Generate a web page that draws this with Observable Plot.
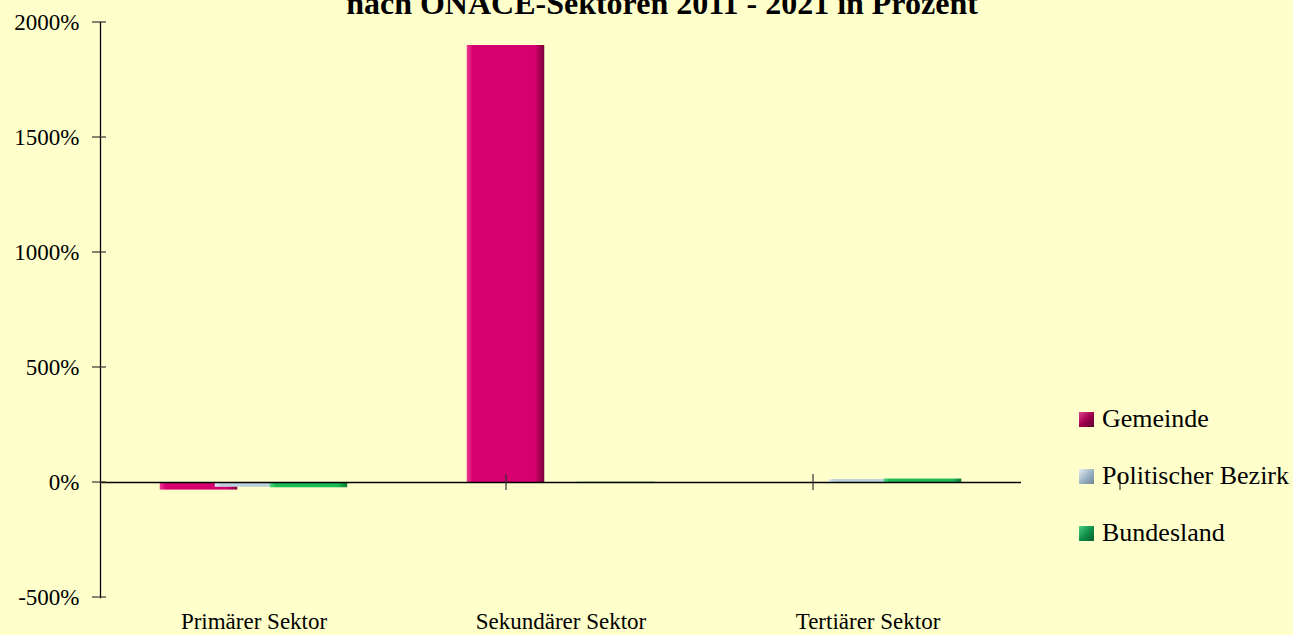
<!DOCTYPE html>
<html><head><meta charset="utf-8">
<script src="https://cdn.jsdelivr.net/npm/d3@7"></script>
<script src="https://cdn.jsdelivr.net/npm/@observablehq/plot@0.6"></script>
<style>
body{margin:0;background:#ffffcc;}
#wrap{position:relative;width:1293px;height:635px;overflow:hidden;font-family:"Liberation Serif","Times New Roman",serif;background:#ffffcc;}
#chart{position:absolute;left:0;top:0;}
#title{position:absolute;left:0;width:1324px;top:-13px;text-align:center;font-weight:bold;font-size:32px;line-height:32px;color:#000;white-space:nowrap;}
.li{position:absolute;left:1079px;display:flex;align-items:center;font-size:26px;line-height:30px;color:#000;white-space:nowrap;}
.sw{width:15px;height:15px;margin-right:8px;}
</style></head>
<body>
<div id="wrap">
  <div id="chart"></div>
  <div id="title">nach ÖNACE-Sektoren 2011 - 2021 in Prozent</div>
  <div id="legend"></div>
</div>
<script>
const sectors = ["Primärer Sektor", "Sekundärer Sektor", "Tertiärer Sektor"];
const seriesNames = ["Gemeinde", "Politischer Bezirk", "Bundesland"];
const gemeinde = [-33, 1900, -3];
const bezirk = [-21, -3, 13];
const bundesland = [-23, 1, 15];
const yTicks = [-500, 0, 500, 1000, 1500, 2000];
const baseColors = ["#d6006e", "#bcd0de", "#1cb955"];
const lightColors = ["#ee3a92", "#e2ecf4", "#52d882"];
const darkColors = ["#7a0038", "#7f95a8", "#0b7a36"];
const gradIds = ["gGem", "gBez", "gBund"];

const valuesBySeries = [gemeinde, bezirk, bundesland];
const data = sectors.flatMap((s, i) =>
  seriesNames.map((n, k) => ({sector: s, series: n, value: valuesBySeries[k][i]})));

const barMarks = seriesNames.map((n, k) =>
  Plot.barY(data.filter(d => d.series === n), {
    fx: "sector", x: "series", y: "value",
    fill: `url(#${gradIds[k]})`,
    insetLeft: -11.25, insetRight: -11.25
  }));

const plot = Plot.plot({
  width: 1293, height: 635,
  marginLeft: 99, marginRight: 271, marginTop: 22, marginBottom: 38,
  style: {background: "#ffffcc", fontFamily: "'Liberation Serif','Times New Roman',serif", color: "#000"},
  fx: {domain: sectors, padding: 0, label: null},
  x: {domain: seriesNames, paddingInner: 0, paddingOuter: 1.27, axis: null},
  y: {domain: [-500, 2000], label: null},
  marks: [
    ...barMarks,
    Plot.ruleY([0], {stroke: "#000", strokeWidth: 1.3}),
    Plot.frame({anchor: "left", facetAnchor: "left", stroke: "#000", strokeWidth: 1.3}),
    Plot.axisY(yTicks, {tickFormat: d => d + "%", tickSize: 0, tickPadding: 21, fontSize: 23, label: null}),
    Plot.axisFx({anchor: "bottom", tickSize: 0, tickPadding: 15, fontSize: 23, label: null})
  ]
});

const svg = d3.select(plot);
const defs = svg.insert("defs", ":first-child");
gradIds.forEach((id, k) => {
  const g = defs.append("linearGradient").attr("id", id).attr("x1", 0).attr("x2", 1).attr("y1", 0).attr("y2", 0);
  g.append("stop").attr("offset", 0).attr("stop-color", lightColors[k]);
  g.append("stop").attr("offset", 0.08).attr("stop-color", baseColors[k]);
  g.append("stop").attr("offset", 0.88).attr("stop-color", baseColors[k]);
  g.append("stop").attr("offset", 1).attr("stop-color", darkColors[k]);
});

// tick marks crossing the axes, placed with the plot's own scales
const yS = plot.scale("y"), fxS = plot.scale("fx");
const x0 = 99;
const tg = svg.append("g").attr("stroke", "#333").attr("stroke-width", 1.2);
yTicks.forEach(v => {
  const yy = yS.apply(v);
  tg.append("line").attr("x1", x0 - 7).attr("x2", x0 + 7).attr("y1", yy).attr("y2", yy);
});
const y0 = yS.apply(0);
const edges = sectors.map(s => x0 + fxS.apply(s));
edges.push(x0 + fxS.apply(sectors[sectors.length - 1]) + fxS.bandwidth);
edges.slice(1).forEach(ex => {
  tg.append("line").attr("x1", ex).attr("x2", ex).attr("y1", y0 - 8).attr("y2", y0 + 8);
});

document.getElementById("chart").appendChild(plot);

const legendTops = [404, 461, 518];
const legendBg = [
  "linear-gradient(135deg,#e04090 0%,#a0004f 50%,#600030 100%)",
  "linear-gradient(135deg,#e8f0f6 0%,#9fb6c8 50%,#6f8598 100%)",
  "linear-gradient(135deg,#50d080 0%,#10904a 50%,#06602e 100%)"
];
const leg = document.getElementById("legend");
seriesNames.forEach((n, k) => {
  const item = document.createElement("div");
  item.className = "li";
  item.style.top = legendTops[k] + "px";
  const sw = document.createElement("div");
  sw.className = "sw";
  sw.style.background = legendBg[k];
  item.appendChild(sw);
  item.appendChild(document.createTextNode(n));
  leg.appendChild(item);
});
</script>
</body></html>
